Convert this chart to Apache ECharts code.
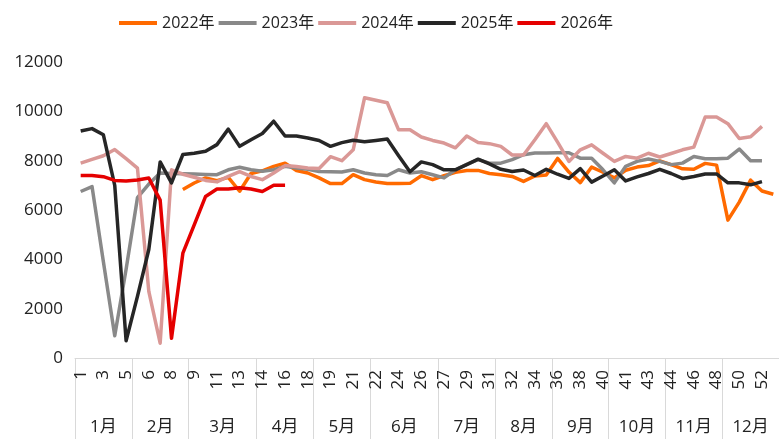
<!DOCTYPE html>
<html>
<head>
<meta charset="utf-8">
<script src="https://cdn.jsdelivr.net/npm/echarts@6/dist/echarts.min.js"></script>
<style>
  html, body { margin: 0; padding: 0; background: #fff; }
  #chart { width: 779px; height: 439px; }
</style>
</head>
<body>
<div id="chart"></div>
<script>
// Week numbers grouped by month (weeks that straddle two months appear in both)
const monthNames = ['1月', '2月', '3月', '4月', '5月', '6月', '7月', '8月', '9月', '10月', '11月', '12月'];
const monthWeeks = [
  [1, 2, 3, 4, 5],
  [5, 6, 7, 8, 9],
  [9, 10, 11, 12, 13, 14],
  [14, 15, 16, 17, 18],
  [18, 19, 20, 21, 22],
  [22, 23, 24, 25, 26, 27],
  [27, 28, 29, 30, 31],
  [31, 32, 33, 34, 35],
  [36, 37, 38, 39, 40],
  [40, 41, 42, 43, 44],
  [44, 45, 46, 47, 48],
  [49, 50, 51, 52, 53]
];
const weekLabels = monthWeeks.flat();

const yearNames = ['2022年', '2023年', '2024年', '2025年', '2026年'];
const yearColors = ['#FF6A00', '#898989', '#DA9896', '#262626', '#E50000'];

const y2022 = [null, null, null, null, null, null, null, null, null,
  6830, 7095, 7300, 7190, 7320, 6760, 7480, 7590, 7770, 7900, 7600,
  7500, 7300, 7070, 7070, 7430, 7230, 7135, 7070, 7070, 7080,
  7390, 7230, 7390, 7525, 7605, 7605, 7480, 7430, 7360, 7160,
  7380, 7420, 8090, 7540, 7110, 7740, 7530, 7300, 7610, 7740,
  7800, 7990, 7840, 7670, 7650, 7890, 7820, 5590, 6320, 7210,
  6770, 6640];
const y2023 = [6750, 6950, 3900, 900, 3600, 6500, 7050, 7500, 7480, 7470,
  7460, 7440, 7430, 7630, 7730, 7630, 7570, 7630, 7770, 7700,
  7650, 7560, 7550, 7540, 7630, 7500, 7430, 7400, 7630, 7500,
  7550, 7430, 7300, 7630, 7850, 8040, 7900, 7900, 8040, 8240,
  8310, 8310, 8320, 8320, 8100, 8100, 7630, 7100, 7770, 7970,
  8070, 7970, 7840, 7900, 8170, 8080, 8080, 8100, 8470, 8000,
  8000];
const y2024 = [7900, 8050, 8200, 8450, 8080, 7700, 2700, 600, 7630, 7450,
  7330, 7200, 7140, 7360, 7560, 7360, 7230, 7500, 7800, 7760,
  7700, 7680, 8160, 8000, 8440, 10550, 10450, 10350, 9250, 9250,
  8960, 8820, 8715, 8520, 9000, 8740, 8690, 8580, 8230, 8230,
  8850, 9500, 8750, 7970, 8440, 8640, 8300, 7970, 8170, 8100,
  8300, 8150, 8290, 8440, 8550, 9770, 9770, 9500, 8900, 8970,
  9390];
const y2025 = [9200, 9300, 9050, 7000, 700, 2500, 4400, 7950, 7100, 8250,
  8300, 8380, 8650, 9280, 8580, 8850, 9100, 9600, 9000, 9000,
  8920, 8820, 8580, 8730, 8830, 8770, 8820, 8880, 8200, 7550,
  7950, 7840, 7630, 7630, 7840, 8060, 7870, 7650, 7560, 7620,
  7400, 7650, 7450, 7280, 7680, 7130, 7380, 7630, 7180, 7340,
  7480, 7650, 7480, 7280, 7360, 7460, 7460, 7100, 7100, 7020,
  7150];
const y2026 = [7400, 7400, 7350, 7200, 7180, 7220, 7300, 6400, 800, 4250,
  5400, 6550, 6850, 6850, 6900, 6850, 6750, 7000, 7000];

const yearSeries = [y2022, y2023, y2024, y2025, y2026];

// Month spans on a continuous 0..N scale for the outer (month) axis level
const monthBounds = [0];
monthWeeks.forEach(w => monthBounds.push(monthBounds[monthBounds.length - 1] + w.length));
const monthCenters = monthNames.map((_, i) => (monthBounds[i] + monthBounds[i + 1]) / 2);

const FONT = "'Open Sans', 'Noto Sans CJK SC', sans-serif";
const TEXT = '#222222';
const RULE = '#D9D9D9';

const chart = echarts.init(document.getElementById('chart'), null, { renderer: 'canvas' });
chart.setOption({
  animation: false,
  textStyle: { fontFamily: FONT },
  legend: {
    top: 10,
    left: 114,
    itemWidth: 38,
    itemHeight: 4,
    itemGap: 4,
    icon: 'rect',
    textStyle: { fontSize: 16, color: TEXT, fontFamily: FONT },
    data: yearNames
  },
  grid: { left: 75, right: -5, top: 62, bottom: 81 },
  xAxis: [
    {
      type: 'category',
      boundaryGap: true,
      data: weekLabels.map((_, i) => String(i)),
      axisLine: { show: true, lineStyle: { color: RULE, width: 1 } },
      axisTick: { show: false },
      axisLabel: {
        interval: 1,
        rotate: 90,
        margin: 12,
        fontSize: 17,
        color: TEXT,
        fontFamily: FONT,
        formatter: (v, i) => String(weekLabels[i])
      },
      splitLine: { show: false }
    },
    {
      type: 'value',
      position: 'bottom',
      offset: 0,
      min: 0,
      max: monthBounds[monthBounds.length - 1],
      axisLine: { show: false },
      axisTick: {
        show: true,
        inside: false,
        length: 82,
        customValues: monthBounds,
        lineStyle: { color: RULE, width: 1 }
      },
      axisLabel: {
        show: true,
        margin: 61,
        fontSize: 17,
        color: TEXT,
        fontFamily: FONT,
        customValues: monthCenters,
        formatter: (v) => {
          const k = monthCenters.indexOf(v);
          return k >= 0 ? monthNames[k] : '';
        }
      },
      splitLine: { show: false }
    }
  ],
  yAxis: {
    type: 'value',
    min: 0,
    max: 12000,
    interval: 2000,
    axisLine: { show: false },
    axisTick: { show: false },
    splitLine: { show: false },
    axisLabel: {
      margin: 12,
      fontSize: 17,
      color: TEXT,
      fontFamily: FONT,
      formatter: (v) => String(v)
    }
  },
  series: yearNames.map((name, k) => ({
    name: name,
    type: 'line',
    xAxisIndex: 0,
    data: yearSeries[k],
    showSymbol: false,
    symbol: 'none',
    connectNulls: false,
    lineStyle: { color: yearColors[k], width: 3.5, join: 'round' },
    itemStyle: { color: yearColors[k] },
    z: 2 + k
  }))
});
</script>
</body>
</html>
